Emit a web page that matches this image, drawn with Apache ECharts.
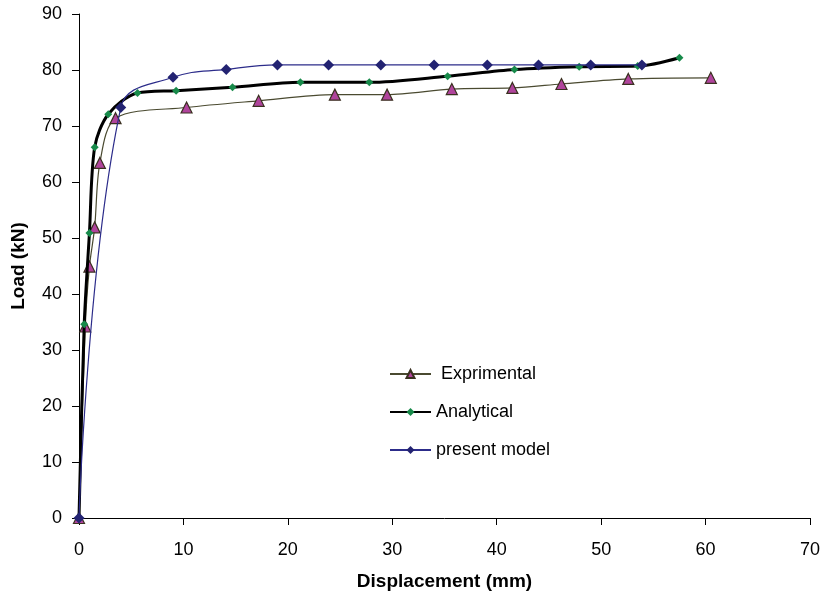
<!DOCTYPE html>
<html>
  <head>
    <meta charset="utf-8" />
    <title>Load vs Displacement</title>
    <script src="https://cdnjs.cloudflare.com/ajax/libs/echarts/6.0.0/echarts.min.js"></script>
  </head>
  <body>
    <style>
      html, body { margin: 0; padding: 0; background: #fff; }
      #main { width: 824px; height: 599px; }
    </style>
    <div id="main"></div>
    <script type="text/javascript">
      // Displacement (mm) / Load (kN)
      var expDisp = [0, 0.6, 1.0, 1.5, 2.0, 3.5, 10.3, 17.2, 24.5, 29.5, 35.7, 41.5, 46.2, 52.6, 60.5];
      var expLoad = [0, 34.2, 44.9, 51.9, 63.4, 71.4, 73.3, 74.5, 75.6, 75.6, 76.6, 76.8, 77.5, 78.4, 78.6];

      var anaDisp = [0, 0.5, 1.0, 1.5, 2.8, 5.6, 9.3, 14.7, 21.2, 27.8, 35.3, 41.7, 47.9, 53.5, 57.5];
      var anaLoad = [0, 34.6, 50.9, 66.2, 72.1, 75.9, 76.3, 76.9, 77.8, 77.8, 78.9, 80.1, 80.6, 80.7, 82.2];

      var modDisp = [0, 4.0, 9.0, 14.1, 19.0, 23.9, 28.9, 34.0, 39.1, 44.0, 49.0, 53.9];
      var modLoad = [0, 73.3, 78.7, 80.1, 80.9, 80.9, 80.9, 80.9, 80.9, 80.9, 80.9, 80.9];

      var seriesNames = [' Exprimental', 'Analytical', 'present model'];

      function pairs(xs, ys) {
        return xs.map(function (x, i) { return [x, ys[i]]; });
      }

      var chartDom = document.getElementById('main');
      var myChart = echarts.init(chartDom);
      var font = 'Liberation Sans, Arial, sans-serif';

      var option = {
        animation: false,
        grid: { left: 79, right: 14, top: 14, bottom: 81, outerBoundsMode: 'none', containLabel: false },
        legend: {
          orient: 'vertical',
          left: 384,
          top: 360,
          itemWidth: 41,
          itemHeight: 10,
          itemGap: 20,
          textStyle: { fontFamily: font, fontSize: 18, color: '#000' },
          data: seriesNames
        },
        xAxis: {
          type: 'value',
          min: 0, max: 70, interval: 10,
          name: 'Displacement (mm)',
          nameLocation: 'middle',
          nameGap: 54,
          nameTextStyle: { fontFamily: font, fontSize: 19, fontWeight: 'bold', color: '#000' },
          axisLine: { lineStyle: { color: '#000', width: 1 } },
          axisTick: { show: true, length: 7, lineStyle: { color: '#000' } },
          axisLabel: { fontFamily: font, fontSize: 18, color: '#000', margin: 23 },
          splitLine: { show: false }
        },
        yAxis: {
          type: 'value',
          min: 0, max: 90, interval: 10,
          name: 'Load (kN)',
          nameLocation: 'middle',
          nameGap: 51,
          nameTextStyle: { fontFamily: font, fontSize: 19, fontWeight: 'bold', color: '#000' },
          axisLine: { show: true, lineStyle: { color: '#000', width: 1 } },
          axisTick: { show: true, length: 7, lineStyle: { color: '#000' } },
          axisLabel: { fontFamily: font, fontSize: 18, color: '#000', margin: 17 },
          splitLine: { show: false }
        },
        series: [
          {
            name: seriesNames[0],
            type: 'line',
            data: pairs(expDisp, expLoad),
            smooth: 0.3,
            symbol: 'triangle',
            symbolSize: 11,
            lineStyle: { color: '#4a4a30', width: 1.2 },
            itemStyle: { color: '#b0449c', borderColor: '#3a3020', borderWidth: 1.2 },
            z: 3
          },
          {
            name: seriesNames[1],
            type: 'line',
            data: pairs(anaDisp, anaLoad),
            smooth: 0.3,
            symbol: 'diamond',
            symbolSize: 8,
            lineStyle: { color: '#000', width: 3 },
            itemStyle: { color: '#178a4a', borderWidth: 0 },
            z: 4
          },
          {
            name: seriesNames[2],
            type: 'line',
            data: pairs(modDisp, modLoad),
            smooth: 0.4,
            symbol: 'diamond',
            symbolSize: 11,
            lineStyle: { color: '#2c2c8a', width: 1.2 },
            itemStyle: { color: '#232372', borderWidth: 0 },
            z: 5
          }
        ]
      };

      myChart.setOption(option);
    </script>
  </body>
</html>
